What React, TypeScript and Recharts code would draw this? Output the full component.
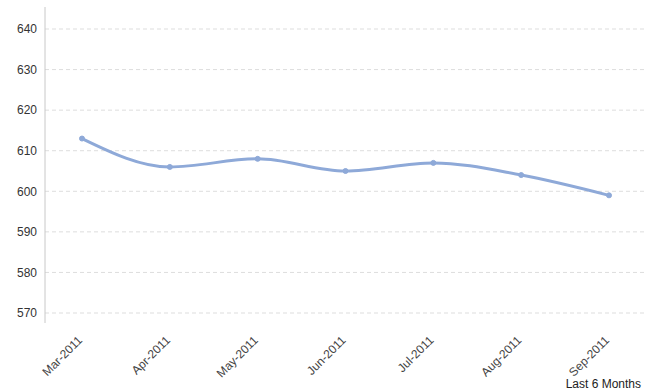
import { LineChart, Line, XAxis, YAxis, CartesianGrid, Label } from 'recharts'

const months = ['Mar-2011', 'Apr-2011', 'May-2011', 'Jun-2011', 'Jul-2011', 'Aug-2011', 'Sep-2011']
const values = [613, 606, 608, 605, 607, 604, 599]
const yTicks = [570, 580, 590, 600, 610, 620, 630, 640]

const data = months.map((month, i) => ({ month, value: values[i] }))

export default function App() {
  return (
    <div style={{ position: 'absolute', left: 0, top: 0, fontFamily: '"Liberation Sans", Arial, sans-serif' }}>
      <LineChart width={654} height={392} data={data} margin={{ top: 7, right: 9, left: 0, bottom: 0 }}>
        <CartesianGrid horizontal vertical={false} syncWithTicks stroke="#dddddd" strokeDasharray="4 3" />
        <XAxis
          dataKey="month"
          axisLine={false}
          tickLine={false}
          height={69}
          interval={0}
          padding={{ left: 37, right: 36 }}
          tick={{ fill: '#444444', fontSize: 12 }}
          angle={-45}
          textAnchor="end"
          dx={-5}
          dy={4}
        >
          <Label value="Last 6 Months" position="insideBottomRight" offset={4} fill="#222222" fontSize={12} />
        </XAxis>
        <YAxis
          width={45}
          domain={[570, 640]}
          ticks={yTicks}
          padding={{ top: 22, bottom: 10 }}
          axisLine={{ stroke: '#c8c8c8' }}
          tickLine={false}
          tick={{ fill: '#333333', fontSize: 12 }}
        />
        <Line
          type="monotone"
          dataKey="value"
          stroke="#8ea9d8"
          strokeWidth={3}
          dot={{ r: 2.5, fill: '#8ea9d8', stroke: '#8ea9d8', strokeWidth: 1 }}
          isAnimationActive={false}
        />
      </LineChart>
    </div>
  )
}
